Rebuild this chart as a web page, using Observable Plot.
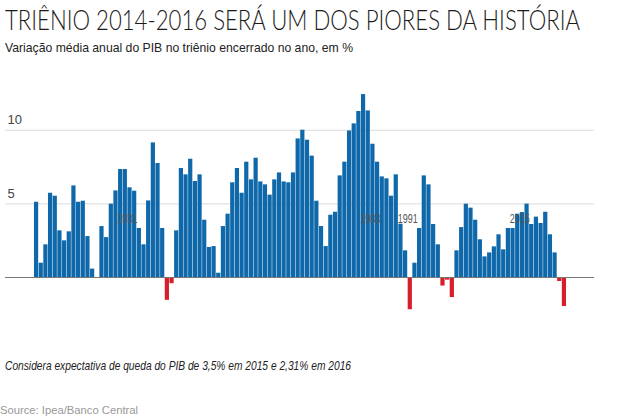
<!DOCTYPE html>
<html><head><meta charset="utf-8">
<script src="https://cdn.jsdelivr.net/npm/d3@7"></script>
<script src="https://cdn.jsdelivr.net/npm/@observablehq/plot@0.6"></script>
<style>
body{margin:0;background:#fff;}
#page{position:relative;width:620px;height:417px;font-family:"Liberation Sans",Arial,sans-serif;color:#222;overflow:hidden}
.fit{transform-origin:0 50%;white-space:nowrap;position:absolute}
#title{left:5px;top:5px;font-family:"Lato Light",Lato,"Liberation Sans",sans-serif;font-weight:300;font-size:27px;line-height:30px;color:#1a1a1a}
#subtitle{left:5px;top:40px;font-size:13px;line-height:16px}
#chart{position:absolute;left:0;top:60px;}
#caption{left:5px;top:358px;font-style:italic;font-size:13px;line-height:16px}
#source{left:0;top:403px;font-size:11.5px;color:#999;line-height:14px}
</style></head>
<body>
<div id="page">
  <div id="title" class="fit" data-w="575">TRIÊNIO 2014-2016 SERÁ UM DOS PIORES DA HISTÓRIA</div>
  <div id="subtitle" class="fit" data-w="348">Variação média anual do PIB no triênio encerrado no ano, em %</div>
  <div id="chart"></div>
  <div id="caption" class="fit" data-w="346">Considera expectativa de queda do PIB de 3,5% em 2015 e 2,31% em 2016</div>
  <div id="source" class="fit" data-w="138">Source: Ipea/Banco Central</div>
</div>
<script>
const years = d3.range(1903, 2017);
const values = [
  5.11, 0.97, 2.22, 5.72, 5.52, 3.17, 2.49, 3.10, 6.22, 5.11,
  5.18, 2.78, 0.57, 0, 3.46, 2.71, 4.98, 5.88, 7.33, 7.33,
  6.09, 5.86, 3.33, 2.22, 5.20, 9.14, 7.74, 3.33, -1.55, -0.42,
  3.17, 7.40, 6.97, 8.03, 6.52, 6.97, 3.89, 2.04, 2.10, 0.29,
  3.46, 4.30, 6.43, 7.40, 5.72, 7.83, 6.63, 8.10, 6.49, 6.29,
  5.59, 6.63, 7.10, 6.49, 6.43, 7.10, 9.41, 10.0, 9.32, 8.24,
  5.18, 3.46, 2.10, 4.23, 4.43, 6.90, 7.83, 9.95, 10.43, 11.27,
  12.42, 11.31, 9.05, 7.83, 6.83, 6.70, 5.52, 6.97, 3.62, 1.81,
  -2.19, 0.97, 3.33, 6.90, 6.29, 3.60, 2.22, -0.58, -0.18, -1.36,
  1.81, 3.39, 4.98, 4.71, 3.89, 2.56, 1.40, 1.67, 2.08, 2.90,
  1.88, 3.33, 3.33, 4.30, 4.41, 4.98, 3.60, 4.10, 3.67, 4.43,
  2.90, 1.67, -0.27, -1.97
];
const yTicks = [5, 10];
const annotYears = [1931, 1983, 1991, 2015];

const data = years.map((year, i) => ({year, value: values[i]}));

const chart = Plot.plot({
  width: 620,
  height: 280,
  marginLeft: 5,
  marginRight: 26,
  marginTop: 0,
  marginBottom: 0,
  style: {background: "transparent", overflow: "visible"},
  x: {type: "band", domain: years, range: [33.5, 566.5], padding: 0.1, round: false, axis: null},
  y: {domain: [-3, 12.5], range: [261.2, 32.9], axis: null},
  color: {type: "identity"},
  marks: [
    Plot.ruleY(yTicks, {stroke: "#dcdcdc", strokeWidth: 1}),
    Plot.text(yTicks, {y: d => d, text: d => String(d), frameAnchor: "left", textAnchor: "start", dx: 2, dy: -10, fontSize: 13, fill: "#444", fontFamily: "Liberation Sans, Arial, sans-serif"}),
    Plot.barY(data, {x: "year", y: "value", fill: d => d.value < 0 ? "#d71f2b" : "#0f68aa"}),
    Plot.ruleY([0], {stroke: "#777", strokeWidth: 1.2}),
    Plot.text(annotYears, {x: d => d, y: () => 3.95, text: d => String(d), dx: -40, fontSize: 12, fill: "#555", fontFamily: "Liberation Sans, sans-serif", className: "annot"})
  ]
});
document.getElementById("chart").appendChild(chart);

// narrow the annotation labels to the reference width
chart.querySelectorAll(".annot text").forEach(t => {
  t.setAttribute("textLength", "20");
  t.setAttribute("lengthAdjust", "spacingAndGlyphs");
});
// fit the HTML texts horizontally to the reference widths
document.querySelectorAll(".fit").forEach(el => {
  const target = +el.dataset.w;
  const w = el.getBoundingClientRect().width;
  if (w > 0) el.style.transform = `scaleX(${target / w})`;
});
</script>
</body></html>
